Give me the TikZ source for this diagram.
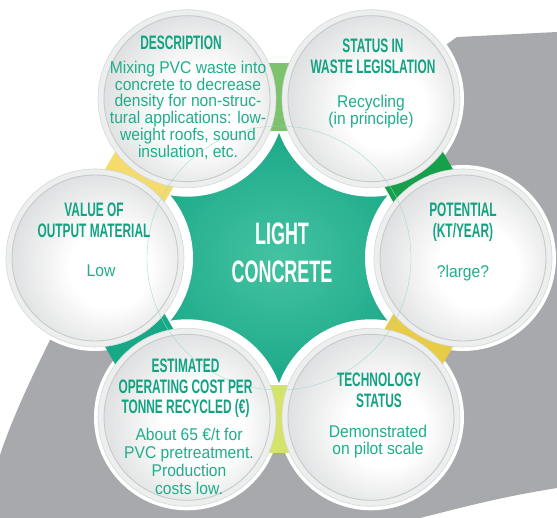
\documentclass[tikz,border=0pt]{standalone}
\usepackage{fontspec}
\setmainfont{Liberation Sans}
\newfontfamily\ttlfont[FakeStretch=0.61]{Liberation Sans Bold}
\newfontfamily\bdyfont[FakeStretch=0.92]{Liberation Sans}
\newfontfamily\ctrfont[FakeStretch=0.58]{Liberation Sans Bold}
\definecolor{bggray}{HTML}{A7A9AC}
\definecolor{titleteal}{HTML}{12A382}
\definecolor{bodyteal}{HTML}{1FAE8C}
\definecolor{starin}{HTML}{45C3A2}
\definecolor{starout}{HTML}{10A281}
\definecolor{cgreenl}{HTML}{7DC36E}
\definecolor{cgreend}{HTML}{17A04B}
\definecolor{cyellow}{HTML}{E8CC45}
\definecolor{clime}{HTML}{D6E36B}
\definecolor{cteal}{HTML}{17A886}
\definecolor{cpale}{HTML}{F5DA6C}
\definecolor{ringfill}{HTML}{EDEEEE}
\definecolor{ringline}{HTML}{D6D7D8}
\definecolor{innerline}{HTML}{C8C9CA}
\definecolor{glossout}{HTML}{DFE0E1}
\definecolor{thinteal}{HTML}{9ADBCB}
\pgfdeclareradialshading{glossy}{\pgfpoint{6bp}{-4bp}}{color(0bp)=(white); color(12bp)=(white); color(28bp)=(glossout); color(50bp)=(glossout)}
\begin{document}
\begin{tikzpicture}[x=1pt,y=-1pt,
  ttl/.style={font=\ttlfont\fontsize{19.5}{20.5}\selectfont, text=titleteal, align=center, inner sep=0pt, anchor=north},
  bdy/.style={font=\bdyfont\fontsize{17}{17.5}\selectfont, text=bodyteal, align=center, inner sep=0pt, anchor=north},
  ctrtext/.style={font=\ctrfont\fontsize{31}{38}\selectfont, text=white, align=center, inner sep=0pt, anchor=north},
  ring/.style={fill=ringfill, draw=ringline, line width=0.6pt},
  innerdisc/.style={shading=glossy, draw=innerline, line width=0.9pt}]
\useasboundingbox (0,0) rectangle (557,518);
\fill[white] (0,0) rectangle (557,518);
% gray page shape
\fill[bggray] (557,32) -- (457,37) -- (60,320) .. controls (40,360) and (15,410) .. (0,455)
  -- (0,518) -- (420,518) .. controls (460,508) and (500,497) .. (557,488) -- cycle;
% centres
\coordinate (ctr) at (279,258);
\coordinate (cpot) at (463,258);
\coordinate (csta) at (371,98.7);
\coordinate (cdes) at (187,98.7);
\coordinate (cval) at (95,258);
\coordinate (cest) at (187,417.3);
\coordinate (ctec) at (371,417.3);
% white plate and halos
\fill[white] (cpot) -- (csta) -- (cdes) -- (cval) -- (cest) -- (ctec) -- cycle;
\foreach \c in {cpot,csta,cdes,cval,cest,ctec} \fill[white] (\c) circle[radius=93];
% star
\begin{scope}
\clip (cpot) -- (csta) -- (cdes) -- (cval) -- (cest) -- (ctec) -- cycle;
\shade[inner color=starin, outer color=starout] (cpot) -- (csta) -- (cdes) -- (cval) -- (cest) -- (ctec) -- cycle;
\foreach \c in {cpot,csta,cdes,cval,cest,ctec} \fill[white] (\c) circle[radius=98];
\end{scope}
% connectors
\foreach \a/\col in {90/cgreenl, 30/cgreend, -30/cyellow, -90/clime, 210/cteal, 150/cpale}{
  \begin{scope}[shift={(ctr)}, rotate=\a]
    \fill[\col] (127,-26) rectangle (195,26);
  \end{scope}
}
% circles
\foreach \c in {cpot,csta,cdes,cval,cest,ctec}{
  \fill[ring] (\c) circle[radius=89];
  \shadedraw[innerdisc] (\c) circle[radius=83];
}
\draw[thinteal, line width=0.35pt] (ctr) circle[radius=132];
% texts
\node[ctrtext] (center) at (282,223) {LIGHT\\CONCRETE};
\node[ttl] (tdes) at (181,36) {DESCRIPTION};
\node[bdy, font=\bdyfont\fontsize{17}{16.8}\selectfont] (bdes) at (188,60.8) {Mixing PVC waste into\\concrete to decrease\\density for non-struc-\\tural applications: low-\\weight roofs, sound\\insulation, etc.};
\node[ttl] (tsta) at (373,39) {STATUS IN\\WASTE LEGISLATION};
\node[bdy] (bsta) at (371,94.8) {Recycling\\(in principle)};
\node[ttl] (tval) at (94,203) {VALUE OF\\OUTPUT MATERIAL};
\node[bdy] (bval) at (101,264.8) {Low};
\node[ttl] (tpot) at (463,203) {POTENTIAL\\(KT/YEAR)};
\node[bdy] (bpot) at (463,264.6) {?large?};
\node[ttl] (test) at (185.5,359) {ESTIMATED\\OPERATING COST PER\\TONNE RECYCLED (€)};
\node[bdy, font=\bdyfont\fontsize{17}{18.2}\selectfont] (best) at (189,427.6) {About 65 €/t for\\PVC pretreatment.\\Production\\costs low.};
\node[ttl] (ttec) at (379,373) {TECHNOLOGY\\STATUS};
\node[bdy] (btec) at (378,424.6) {Demonstrated\\on pilot scale};
\end{tikzpicture}
\end{document}
